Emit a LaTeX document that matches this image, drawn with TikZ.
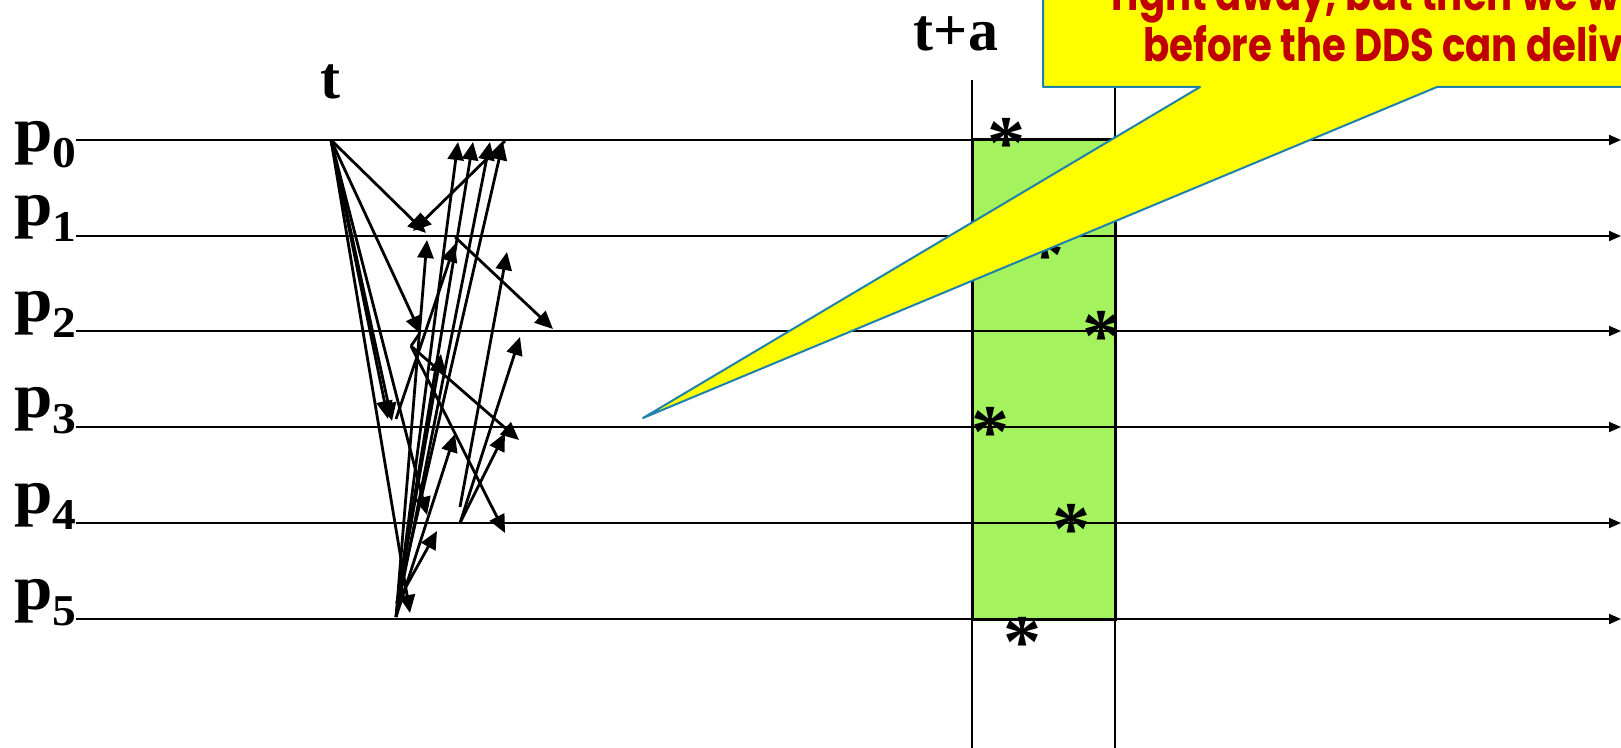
\documentclass[tikz,border=0pt]{standalone}
\usepackage{fontspec}
\setmainfont{Liberation Serif}
\newfontfamily\calloutfont{Poppins}
\usetikzlibrary{arrows.meta}
\definecolor{boxgreen}{RGB}{163,242,94}
\definecolor{callyellow}{RGB}{255,255,0}
\definecolor{callblue}{RGB}{30,130,170}
\definecolor{callred}{RGB}{192,0,0}
\begin{document}
\begin{tikzpicture}[x=0.5pt,y=-0.5pt,
  tl/.style={line width=1pt,-{Triangle[length=6pt,width=5pt]}},
  msg/.style={line width=1.4pt,-{Triangle[length=9pt,width=8pt]}},
  plain/.style={line width=1.4pt},
  vline/.style={line width=1pt},
  plabel/.style={anchor=base west,inner sep=0pt,font=\fontsize{32}{32}\selectfont\bfseries},
  tlabel/.style={anchor=base,inner sep=0pt,font=\fontsize{30}{30}\selectfont\bfseries},
  star/.style={anchor=base,inner sep=0pt,font=\fontsize{38}{38}\selectfont\bfseries},
  ctext/.style={anchor=base west,inner sep=0pt,text=callred,font=\calloutfont\bfseries\fontsize{23}{23}\selectfont}
]
\path[use as bounding box] (0,0) rectangle (1621,748);
\clip (0,0) rectangle (1621,748);
\newcommand{\sub}[1]{\raisebox{-8pt}{\fontsize{22}{22}\selectfont #1}}
% labels
\node[plabel] (p0) at (14,152) {\scalebox{1.08}[1]{p\sub{0}}};
\node[plabel] (p1) at (14,226) {\scalebox{1.08}[1]{p\sub{1}}};
\node[plabel] (p2) at (14,322) {\scalebox{1.08}[1]{p\sub{2}}};
\node[plabel] (p3) at (14,417) {\scalebox{1.08}[1]{p\sub{3}}};
\node[plabel] (p4) at (14,513) {\scalebox{1.08}[1]{p\sub{4}}};
\node[plabel] (p5) at (14,609) {\scalebox{1.08}[1]{p\sub{5}}};
\node[tlabel] (tt) at (330,99) {t};
\node[tlabel] (tta) at (956,51) {t+a};
% green box and verticals
\coordinate (VLt) at (972,80); \coordinate (VLb) at (972,750);
\coordinate (VRt) at (1115,80); \coordinate (VRb) at (1115,750);
\draw[vline] (VLt) -- (VLb);
\draw[vline] (VRt) -- (VRb);
\coordinate (G1) at (972,140); \coordinate (G2) at (1115,619);
\draw[fill=boxgreen,line width=1.5pt] (G1) rectangle (G2);
% horizontal time lines
\foreach \i/\y in {0/140,1/236,2/331,3/427,4/523,5/619}{
  \coordinate (L\i) at (76,\y);
  \coordinate (R\i) at (1621,\y);
  \draw[tl] (L\i) -- (R\i);
}
% asterisks
\node[star] (s0) at (1006,169) {*};
\node[star] (s1) at (1045,281) {*};
\node[star] (s2) at (1101,362) {*};
\node[star] (s3) at (990,457) {*};
\node[star] (s4) at (1071,554) {*};
\node[star] (s5) at (1022,667) {*};
% message cluster
\coordinate (T) at (331,140);
\coordinate (a1) at (426,233);
\coordinate (a2) at (421,334);
\coordinate (a3) at (392,421);
\coordinate (a3b) at (388,419);
\coordinate (a4) at (427,515);
\coordinate (a5) at (410,613);
\foreach \e in {a1,a2,a3,a3b,a4,a5} \draw[msg] (T) -- (\e);
\coordinate (P0b) at (505,141); \coordinate (b1) at (413,231);
\draw[msg] (P0b) -- (b1);
\coordinate (P1a) at (455,237); \coordinate (c2) at (553,329);
\draw[msg] (P1a) -- (c2);
\coordinate (P2a) at (420,333); \coordinate (P2k) at (411,346);
\coordinate (d3) at (519,440); \coordinate (d4) at (505,533);
\draw[plain] (P2a) -- (P2k);
\draw[msg] (P2k) -- (d3);
\draw[msg] (P2k) -- (d4);
\coordinate (P3a) at (396,419); \coordinate (e1) at (455,244);
\draw[msg] (P3a) -- (e1);
\coordinate (P4a) at (460,523); \coordinate (f2) at (520,337); \coordinate (f3) at (505,433);
\draw[msg] (P4a) -- (f2);
\draw[msg] (P4a) -- (f3);
\coordinate (P4b) at (460,507); \coordinate (g1) at (507,252);
\draw[msg] (P4b) -- (g1);
\coordinate (P5a) at (396,617); \coordinate (P5b) at (397,603);
\coordinate (h0a) at (458,142); \coordinate (h0b) at (473,142);
\coordinate (h0c) at (490,142); \coordinate (h0d) at (503,142);
\coordinate (h1) at (427,240); \coordinate (h2) at (441,354);
\coordinate (h3) at (455,434); \coordinate (h4) at (437,531);
\foreach \e in {h0a,h0c,h1,h3} \draw[msg] (P5a) -- (\e);
\foreach \e in {h0b,h0d,h2,h4} \draw[msg] (P5b) -- (\e);
% callout
\coordinate (C1) at (1043,-20); \coordinate (C2) at (1043,87);
\coordinate (C3) at (1200,87); \coordinate (Ctip) at (643,418);
\coordinate (C4) at (1437,87); \coordinate (C5) at (1660,87);
\coordinate (C6) at (1660,-20);
\draw[fill=callyellow,draw=callblue,line width=1pt,line join=round]
  (C1) -- (C2) -- (C3) -- (Ctip) -- (C4) -- (C5) -- (C6) -- cycle;
\node[ctext] (ct1) at (1111,11) {\scalebox{0.84}[1]{right away, but then we w}};
\node[ctext] (ct2) at (1143,62) {\scalebox{0.84}[1]{before the DDS can deliv}};
\end{tikzpicture}
\end{document}
